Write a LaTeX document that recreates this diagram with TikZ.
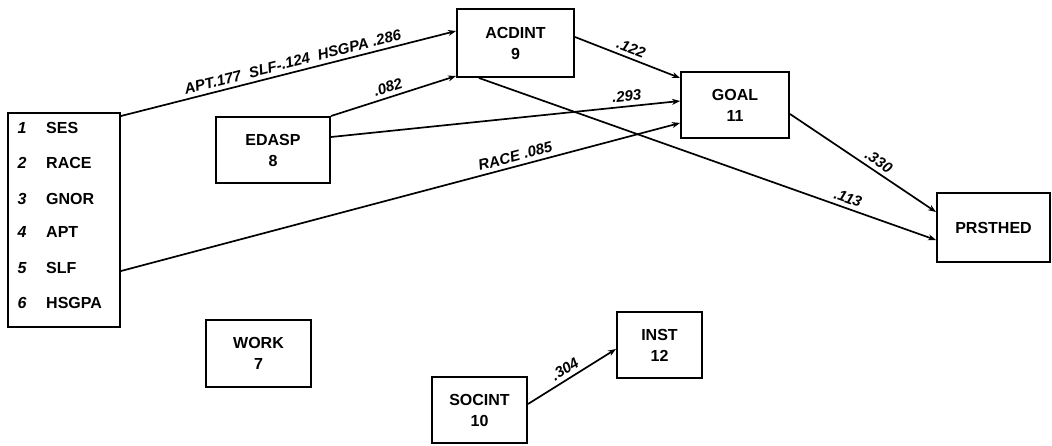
\documentclass[tikz,border=0pt]{standalone}
\usepackage{fontspec}
\setmainfont{Liberation Sans}
\usetikzlibrary{arrows.meta}
\begin{document}
\begin{tikzpicture}[x=1pt,y=-1pt,
  box/.style={draw,line width=2pt,rectangle,inner sep=0pt,align=center,
    font=\fontsize{16}{21}\selectfont\bfseries},
  item/.style={inner sep=0pt,font=\fontsize{16}{18}\selectfont\bfseries},
  num/.style={inner sep=0pt,font=\fontsize{16}{18}\selectfont\itshape\bfseries},
  path/.style={line width=1.7pt,-{Stealth[length=8pt,width=6pt]}},
  coef/.style={font=\fontsize{15}{17}\selectfont\itshape\bfseries,sloped,above,inner sep=4pt}]
\useasboundingbox (0,0) rectangle (1052,445);
% boxes
\node[box,minimum width=112pt,minimum height=214pt] (src) at (64,220) {};
\node[box,minimum width=117pt,minimum height=68pt] (acd) at (515.5,43) {ACDINT\\9};
\node[box,minimum width=108pt,minimum height=66pt] (goal) at (735,105) {GOAL\\11};
\node[box,minimum width=113pt,minimum height=69pt] (prs) at (993.5,227.5) {PRSTHED};
\node[box,minimum width=114pt,minimum height=66pt] (edasp) at (273,150) {EDASP\\8};
\node[box,minimum width=105pt,minimum height=67pt] (work) at (258.5,353.5) {WORK\\7};
\node[box,minimum width=95pt,minimum height=66pt] (soc) at (479.5,410) {SOCINT\\10};
\node[box,minimum width=85pt,minimum height=66pt] (inst) at (659.5,345) {INST\\12};
% list in the left box
\node[num] (n1) at (22,128) {1}; \node[item,anchor=west] (t1) at (46,128) {SES};
\node[num] (n2) at (22,163) {2}; \node[item,anchor=west] (t2) at (46,163) {RACE};
\node[num] (n3) at (22,199) {3}; \node[item,anchor=west] (t3) at (46,199) {GNOR};
\node[num] (n4) at (22,232) {4}; \node[item,anchor=west] (t4) at (46,232) {APT};
\node[num] (n5) at (22,268) {5}; \node[item,anchor=west] (t5) at (46,268) {SLF};
\node[num] (n6) at (22,303) {6}; \node[item,anchor=west] (t6) at (46,303) {HSGPA};
% connectors
\draw[path] ([yshift=-4pt]src.north east) -- node[coef,pos=0.52] {APT.177 \ SLF-.124 \ HSGPA .286} ([yshift=-23pt]acd.north west);
\draw[path] (edasp.north east) -- node[coef,pos=0.48] {.082} ([yshift=2pt]acd.south west);
\draw[path] ([yshift=-21pt]edasp.north east) -- node[coef,pos=0.85] {.293} ([yshift=-30pt]goal.north west);
\draw[path] ([yshift=-159pt]src.north east) -- node[coef,pos=0.71] {RACE .085} ([yshift=-52pt]goal.north west);
\draw[path] ([yshift=-29pt]acd.north east) -- node[coef,pos=0.5] {.122} ([yshift=-7pt]goal.north west);
\draw[path] ([xshift=23pt]acd.south west) -- node[coef,pos=0.8] {.113} ([yshift=-48pt]prs.north west);
\draw[path] ([yshift=-43pt]goal.north east) -- node[coef,pos=0.57] {.330} ([yshift=-20pt]prs.north west);
\draw[path] ([yshift=-28pt]soc.north east) -- node[coef,pos=0.48] {.304} ([yshift=-38pt]inst.north west);
\end{tikzpicture}
\end{document}
